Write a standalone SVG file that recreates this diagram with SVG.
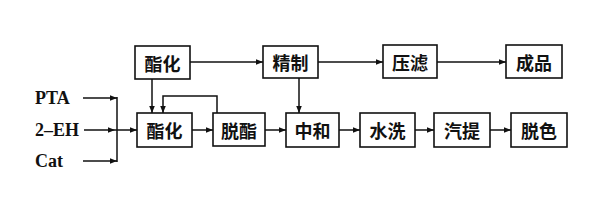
<svg xmlns="http://www.w3.org/2000/svg" width="600" height="200" viewBox="0 0 600 200">
<defs>
<marker id="ah" viewBox="0 0 10 10" refX="10" refY="5" markerWidth="7" markerHeight="7" markerUnits="userSpaceOnUse" orient="auto">
<path d="M0,1 L10,5 L0,9 Z" fill="#111"/>
</marker>
<style>
.box{fill:#fff;stroke:#111;stroke-width:1.6}
.t{font-family:"Noto Sans CJK SC","Noto Sans CJK JP",sans-serif;font-size:18px;font-weight:bold;fill:#111;text-anchor:middle;dominant-baseline:central}
.in{font-family:"Liberation Serif",serif;font-size:18px;font-weight:bold;fill:#111}
.c{fill:none;stroke:#111;stroke-width:1.5}
</style>
</defs>
<rect width="600" height="200" fill="#fff"/>
<g id="connectors">
<path class="c" d="M190,62 H263" marker-end="url(#ah)"/>
<path class="c" d="M318,62 H383" marker-end="url(#ah)"/>
<path class="c" d="M437,62 H506" marker-end="url(#ah)"/>
<path class="c" d="M152,79 V113" marker-end="url(#ah)"/>
<path class="c" d="M299,78 V113" marker-end="url(#ah)"/>
<path class="c" d="M217,113 V96 H163 V113" marker-end="url(#ah)"/>
<path class="c" d="M83,98 H117" marker-end="url(#ah)"/>
<path class="c" d="M83,161 H117" marker-end="url(#ah)"/>
<path class="c" d="M117,97 V162"/>
<path class="c" d="M84,130 H115" marker-end="url(#ah)"/>
<path class="c" d="M115,130 H137" marker-end="url(#ah)"/>
<path class="c" d="M192,130 H213" marker-end="url(#ah)"/>
<path class="c" d="M265,130 H286" marker-end="url(#ah)"/>
<path class="c" d="M339,130 H360" marker-end="url(#ah)"/>
<path class="c" d="M415,130 H434" marker-end="url(#ah)"/>
<path class="c" d="M490,130 H511" marker-end="url(#ah)"/>
</g>
<g id="inputs">
<text class="in" x="35" y="104">PTA</text>
<text class="in" x="35" y="136">2–EH</text>
<text class="in" x="35" y="167">Cat</text>
</g>
<g id="n_esterify_top"><rect class="box" x="135" y="46" width="55" height="33"/><text class="t" x="162.5" y="62.5">酯化</text></g>
<g id="n_refine"><rect class="box" x="263" y="46" width="55" height="32"/><text class="t" x="290.5" y="62">精制</text></g>
<g id="n_filter"><rect class="box" x="383" y="45" width="54" height="33"/><text class="t" x="410" y="61.5">压滤</text></g>
<g id="n_product"><rect class="box" x="506" y="45" width="56" height="33"/><text class="t" x="534" y="61.5">成品</text></g>
<g id="n_esterify"><rect class="box" x="137" y="113" width="55" height="34"/><text class="t" x="164.5" y="130">酯化</text></g>
<g id="n_dealcohol"><rect class="box" x="213" y="113" width="52" height="33"/><text class="t" x="239" y="129.5">脱酯</text></g>
<g id="n_neutral"><rect class="box" x="286" y="113" width="53" height="34"/><text class="t" x="312.5" y="130">中和</text></g>
<g id="n_wash"><rect class="box" x="360" y="113" width="55" height="34"/><text class="t" x="387.5" y="130">水洗</text></g>
<g id="n_strip"><rect class="box" x="434" y="113" width="56" height="34"/><text class="t" x="462" y="130">汽提</text></g>
<g id="n_decolor"><rect class="box" x="511" y="113" width="56" height="34"/><text class="t" x="539" y="130">脱色</text></g>
</svg>
